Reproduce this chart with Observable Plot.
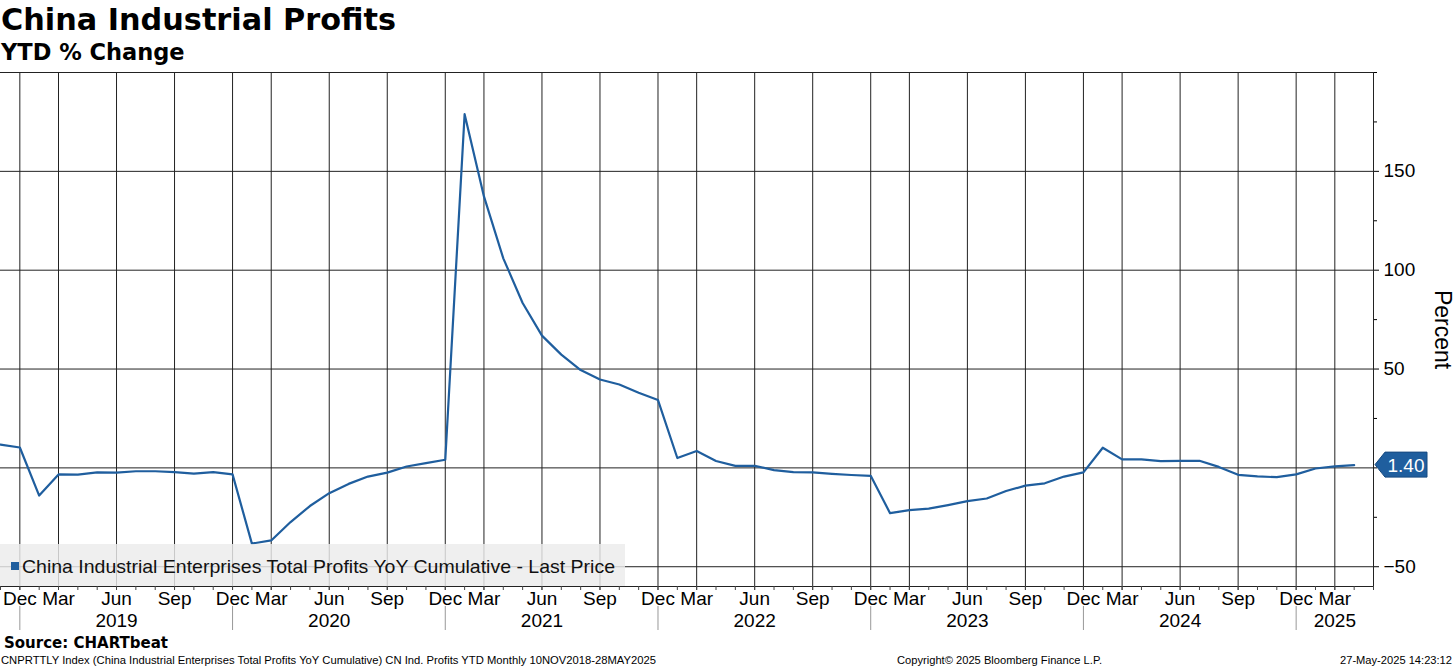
<!DOCTYPE html>
<html><head><meta charset="utf-8">
<script src="https://cdn.jsdelivr.net/npm/d3@7"></script>
<script src="https://cdn.jsdelivr.net/npm/@observablehq/plot@0.6"></script>
<style>
body{margin:0;background:#fff;width:1456px;height:668px;overflow:hidden;position:relative;}
#title{position:absolute;left:1px;top:2px;font:bold 30.3px "DejaVu Sans",sans-serif;color:#000;line-height:36px;white-space:nowrap;}
#subtitle{position:absolute;left:1px;top:38px;font:bold 22.5px "DejaVu Sans",sans-serif;color:#000;line-height:28px;white-space:nowrap;}
#chart{position:absolute;left:0;top:66px;}
#overlay{position:absolute;left:0;top:0;pointer-events:none;}
</style></head><body>
<div id="title">China Industrial Profits</div>
<div id="subtitle">YTD % Change</div>
<div id="chart"></div>
<svg id="overlay" width="1456" height="668"></svg>
<script>
// Monthly observations (China publishes Jan+Feb combined, so January is absent)
const periods = [
  "2018-11","2018-12",
  "2019-02","2019-03","2019-04","2019-05","2019-06","2019-07","2019-08","2019-09","2019-10","2019-11","2019-12",
  "2020-02","2020-03","2020-04","2020-05","2020-06","2020-07","2020-08","2020-09","2020-10","2020-11","2020-12",
  "2021-02","2021-03","2021-04","2021-05","2021-06","2021-07","2021-08","2021-09","2021-10","2021-11","2021-12",
  "2022-02","2022-03","2022-04","2022-05","2022-06","2022-07","2022-08","2022-09","2022-10","2022-11","2022-12",
  "2023-02","2023-03","2023-04","2023-05","2023-06","2023-07","2023-08","2023-09","2023-10","2023-11","2023-12",
  "2024-02","2024-03","2024-04","2024-05","2024-06","2024-07","2024-08","2024-09","2024-10","2024-11","2024-12",
  "2025-02","2025-03","2025-04"
];
const values = [
  11.8, 10.3,
  -14.0, -3.3, -3.4, -2.3, -2.4, -1.7, -1.7, -2.1, -2.9, -2.1, -3.3,
  -38.3, -36.7, -27.4, -19.3, -12.8, -8.1, -4.4, -2.4, 0.7, 2.4, 4.1,
  178.9, 137.3, 106.0, 83.4, 66.9, 57.3, 49.5, 44.7, 42.2, 38.0, 34.3,
  5.0, 8.5, 3.5, 1.0, 1.0, -1.1, -2.1, -2.3, -3.0, -3.6, -4.0,
  -22.9, -21.4, -20.6, -18.8, -16.8, -15.5, -11.7, -9.0, -7.8, -4.4, -2.3,
  10.2, 4.3, 4.3, 3.4, 3.5, 3.6, 0.5, -3.5, -4.3, -4.7, -3.3,
  -0.3, 0.8, 1.4
];
const monthTickNames = {"12":"Dec","03":"Mar","06":"Jun","09":"Sep"};
const yearLabels = [
  {year:"2019", at:"2019-06"},{year:"2020", at:"2020-06"},{year:"2021", at:"2021-06"},
  {year:"2022", at:"2022-06"},{year:"2023", at:"2023-06"},{year:"2024", at:"2024-06"},
  {year:"2025", at:"2025-03"}
];
const yMajorTicks = [-50, 50, 100, 150];
const yMinorTicks = [-25, 0, 25, 75, 125, 175, 200];
const yGrid = [-50, 0, 50, 100, 150];
const yDomain = [-60, 200];
const seriesName = "China Industrial Enterprises Total Profits YoY Cumulative - Last Price";
const lineColor = "#1f5e9e";

const data = periods.map((p, i) => ({i, p, v: values[i]}));
const nSlots = periods.length; // one empty slot at the right edge
const allIdx = d3.range(0, nSlots + 1);
const gridIdx = data.filter(d => monthTickNames[d.p.slice(5)]).map(d => d.i);
const decIdx = data.filter(d => d.p.slice(5) === "12").map(d => d.i);
const yearIdx = yearLabels.map(y => periods.indexOf(y.at));
const last = data[data.length - 1];

const chart = Plot.plot({
  width: 1456, height: 570,
  marginTop: 6, marginBottom: 50, marginLeft: 0, marginRight: 83,
  style: {fontFamily: "'Liberation Sans', Arial, sans-serif", fontSize: "19px", color: "#000", background: "transparent", overflow: "visible"},
  x: {domain: [0, nSlots], axis: null},
  y: {domain: yDomain, axis: null},
  marks: [
    Plot.ruleX(gridIdx, {stroke: "#222", strokeWidth: 1}),
    Plot.ruleY(yGrid, {stroke: "#222", strokeWidth: 1}),
    Plot.ruleY([yDomain[1]], {stroke: "#222", strokeWidth: 1}),
    Plot.ruleY([yDomain[0]], {stroke: "#222", strokeWidth: 1}),
    Plot.ruleX([nSlots], {stroke: "#222", strokeWidth: 1}),
    Plot.axisX({ticks: allIdx, tickSize: 4, tickFormat: () => "", stroke: "#444", label: null}),
    Plot.axisX({ticks: gridIdx, tickSize: 4, tickPadding: 1, fontSize: 19, label: null,
      tickFormat: i => monthTickNames[periods[i].slice(5)], stroke: "#444"}),
    Plot.axisX({ticks: decIdx, tickSize: 24, dy: 20, tickFormat: () => "", stroke: "#999", label: null}),
    Plot.axisX({ticks: yearIdx, tickSize: 0, tickPadding: 27, fontSize: 19, label: null,
      tickFormat: i => yearLabels[yearIdx.indexOf(i)].year}),
    Plot.axisY({anchor: "right", ticks: yMajorTicks, tickSize: 5, tickPadding: 5, fontSize: 19, label: null}),
    Plot.axisY({anchor: "right", ticks: yMinorTicks, tickSize: 3, tickFormat: () => "", label: null}),
    Plot.text(["Percent"], {frameAnchor: "right", dx: 69, rotate: 90, fontSize: 23, textAnchor: "middle"}),
    Plot.line(data, {x: "i", y: "v", stroke: lineColor, strokeWidth: 2.2})
  ]
});
document.getElementById("chart").appendChild(chart);

// Last-price tag on the right axis, positioned through the chart's own scales
const top0 = 66;
const tagY = top0 + chart.scale("y").apply(last.v);
const axisX0 = chart.scale("x").apply(nSlots);
const ov = d3.select("#overlay");
ov.append("path")
  .attr("d", `M${axisX0 + 2},${tagY} L${axisX0 + 12},${tagY - 12.5} L${axisX0 + 54},${tagY - 12.5} L${axisX0 + 54},${tagY + 12.5} L${axisX0 + 12},${tagY + 12.5} Z`)
  .attr("fill", lineColor).attr("stroke", "#174a80").attr("stroke-width", 1);
ov.append("text").attr("x", axisX0 + 33).attr("y", tagY + 7).attr("text-anchor", "middle")
  .style("font", "19px 'Liberation Sans', Arial, sans-serif").attr("fill", "#fff").text(last.v.toFixed(2));

// Legend
ov.append("rect").attr("x", 0).attr("y", 544).attr("width", 625).attr("height", 42)
  .attr("fill", "#ececec").attr("fill-opacity", 0.82);
ov.append("rect").attr("x", 11).attr("y", 562).attr("width", 8).attr("height", 8).attr("fill", lineColor);
ov.append("text").attr("x", 22).attr("y", 573).attr("textLength", 593).attr("lengthAdjust", "spacingAndGlyphs")
  .style("font", "19px 'Liberation Sans', Arial, sans-serif").attr("fill", "#111").text(seriesName);

// Footer
ov.append("text").attr("x", 4).attr("y", 648)
  .style("font", "bold 15px 'DejaVu Sans', sans-serif").attr("fill", "#000").text("Source: CHARTbeat");
ov.append("text").attr("x", 1).attr("y", 664).attr("textLength", 655).attr("lengthAdjust", "spacingAndGlyphs")
  .style("font", "11px 'Liberation Sans', Arial, sans-serif").attr("fill", "#000")
  .text("CNPRTTLY Index (China Industrial Enterprises Total Profits YoY Cumulative) CN Ind. Profits YTD  Monthly 10NOV2018-28MAY2025");
ov.append("text").attr("x", 897).attr("y", 664).attr("textLength", 205).attr("lengthAdjust", "spacingAndGlyphs")
  .style("font", "11px 'Liberation Sans', Arial, sans-serif").attr("fill", "#000")
  .text("Copyright\u00A9 2025 Bloomberg Finance L.P.");
ov.append("text").attr("x", 1340).attr("y", 664).attr("textLength", 112).attr("lengthAdjust", "spacingAndGlyphs")
  .style("font", "11px 'Liberation Sans', Arial, sans-serif").attr("fill", "#000")
  .text("27-May-2025 14:23:12");
</script>
</body></html>
